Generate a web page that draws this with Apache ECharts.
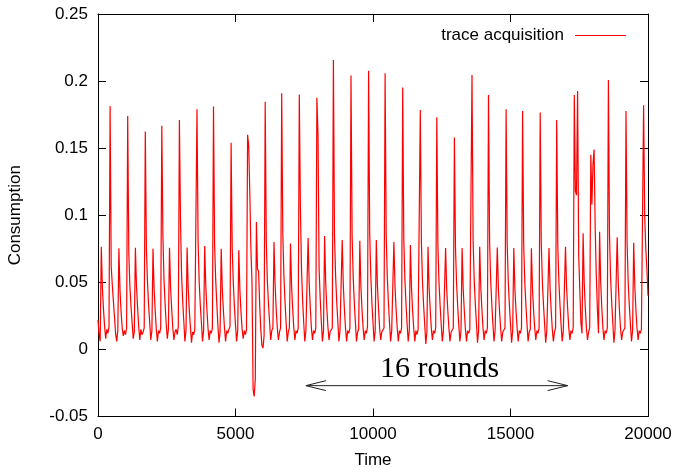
<!DOCTYPE html>
<html>
<head>
<meta charset="utf-8">
<script src="https://cdn.jsdelivr.net/npm/echarts@6/dist/echarts.min.js"></script>
<style>
html,body{margin:0;padding:0;background:#fff;}
#chart{width:677px;height:468px;}
</style>
</head>
<body>
<div id="chart"></div>
<script>
// ---- data ----
const seriesName = 'trace acquisition';
const timeStep = 40;            // time units between samples
const xTicks = [0, 5000, 10000, 15000, 20000];
const yTicks = [-0.05, 0, 0.05, 0.1, 0.15, 0.2, 0.25];
// sampled consumption, one value every timeStep, grouped per spike
const consumption = [].concat(
  [0.022, 0.011, 0.006],
  [0.0766, 0.046, 0.030, 0.017, 0.008, 0.015, 0.012, 0.017],
  [0.1814, 0.062, 0.048, 0.036, 0.024, 0.012, 0.006, 0.014],
  [0.0753, 0.044, 0.028, 0.016, 0.010, 0.014, 0.011, 0.016],
  [0.174, 0.072, 0.047, 0.032, 0.020, 0.008, 0.013],
  [0.0758, 0.047, 0.031, 0.017, 0.007, 0.015, 0.011, 0.013, 0.016],
  [0.1625, 0.075, 0.050, 0.033, 0.020, 0.007, 0.014],
  [0.075, 0.045, 0.029, 0.015, 0.006, 0.014, 0.012, 0.016],
  [0.1667, 0.085, 0.052, 0.034, 0.019, 0.008, 0.015],
  [0.0758, 0.046, 0.030, 0.016, 0.007, 0.013, 0.015, 0.011, 0.017],
  [0.171, 0.096, 0.055, 0.036, 0.021, 0.006, 0.014],
  [0.076, 0.046, 0.029, 0.017, 0.005, 0.013, 0.011, 0.015, 0.016],
  [0.179, 0.080, 0.050, 0.033, 0.020, 0.006, 0.014],
  [0.077, 0.047, 0.030, 0.016, 0.007, 0.014, 0.012, 0.016],
  [0.181, 0.078, 0.052, 0.034, 0.018, 0.005, 0.013],
  [0.075, 0.045, 0.029, 0.016, 0.006, 0.014, 0.012, 0.015, 0.017],
  [0.154, 0.075, 0.050, 0.032, 0.018, 0.006, 0.014],
  [0.074, 0.044, 0.028, 0.015, 0.008, 0.014, 0.011, 0.015],
  [0.160, 0.152, 0.117, 0.075, 0.050, -0.030, -0.035, -0.022],
  [0.095, 0.060, 0.058, 0.033, 0.015, 0.003, 0.001, 0.010],
  [0.1846, 0.080, 0.050, 0.034, 0.020, 0.007, 0.014, 0.016],
  [0.080, 0.048, 0.030, 0.016, 0.007, 0.013, 0.016],
  [0.191, 0.087, 0.055, 0.036, 0.020, 0.006, 0.013, 0.016],
  [0.079, 0.047, 0.030, 0.016, 0.007, 0.014, 0.012, 0.016],
  [0.190, 0.105, 0.060, 0.037, 0.020, 0.006, 0.014, 0.015],
  [0.083, 0.049, 0.031, 0.016, 0.007, 0.014, 0.012, 0.016],
  [0.1876, 0.160, 0.060, 0.038, 0.021, 0.006, 0.014],
  [0.0845, 0.050, 0.031, 0.017, 0.007, 0.013, 0.012, 0.016],
  [0.2157, 0.085, 0.055, 0.036, 0.021, 0.006, 0.014, 0.015],
  [0.0815, 0.048, 0.030, 0.016, 0.006, 0.014, 0.012, 0.016],
  [0.2042, 0.085, 0.054, 0.035, 0.020, 0.006, 0.013, 0.015],
  [0.081, 0.047, 0.030, 0.016, 0.007, 0.014, 0.012, 0.017],
  [0.2077, 0.086, 0.055, 0.035, 0.020, 0.006, 0.014],
  [0.0815, 0.048, 0.031, 0.016, 0.007, 0.013, 0.012, 0.016],
  [0.2058, 0.085, 0.054, 0.035, 0.020, 0.006, 0.014, 0.015],
  [0.080, 0.047, 0.030, 0.016, 0.006, 0.014, 0.012, 0.016],
  [0.1953, 0.082, 0.052, 0.034, 0.019, 0.006, 0.014],
  [0.0778, 0.046, 0.029, 0.016, 0.006, 0.014, 0.011, 0.015, 0.016],
  [0.1784, 0.080, 0.050, 0.033, 0.019, 0.004, 0.013],
  [0.0766, 0.046, 0.030, 0.016, 0.007, 0.014, 0.012, 0.016],
  [0.173, 0.078, 0.050, 0.033, 0.019, 0.006, 0.014, 0.015],
  [0.0755, 0.045, 0.029, 0.016, 0.006, 0.013, 0.012, 0.016],
  [0.158, 0.075, 0.049, 0.032, 0.018, 0.006, 0.014],
  [0.0755, 0.045, 0.029, 0.015, 0.006, 0.014, 0.012, 0.015, 0.016],
  [0.2045, 0.082, 0.052, 0.034, 0.020, 0.005, 0.014],
  [0.0766, 0.046, 0.030, 0.016, 0.007, 0.014, 0.012, 0.016],
  [0.1896, 0.080, 0.051, 0.034, 0.019, 0.006, 0.014, 0.015],
  [0.076, 0.045, 0.029, 0.016, 0.006, 0.013, 0.012, 0.016],
  [0.179, 0.078, 0.050, 0.033, 0.019, 0.005, 0.014],
  [0.0755, 0.045, 0.029, 0.016, 0.006, 0.014, 0.012, 0.016],
  [0.1777, 0.078, 0.050, 0.033, 0.019, 0.006, 0.013, 0.015],
  [0.0753, 0.045, 0.029, 0.016, 0.007, 0.014, 0.012, 0.016],
  [0.1765, 0.078, 0.050, 0.033, 0.019, 0.005, 0.014, 0.015],
  [0.0755, 0.045, 0.029, 0.015, 0.006, 0.013, 0.016],
  [0.171, 0.077, 0.050, 0.033, 0.018, 0.006, 0.014, 0.015],
  [0.0766, 0.046, 0.030, 0.016, 0.007, 0.014, 0.012, 0.016],
  [0.1896, 0.118, 0.115, 0.1926, 0.070, 0.045, 0.020, 0.012],
  [0.0865, 0.050, 0.031, 0.016, 0.007, 0.013, 0.016],
  [0.145, 0.108, 0.138, 0.149, 0.090, 0.055, 0.030, 0.012],
  [0.0877, 0.050, 0.031, 0.016, 0.007, 0.014, 0.012, 0.016],
  [0.2008, 0.085, 0.053, 0.035, 0.020, 0.005, 0.014, 0.015],
  [0.0835, 0.049, 0.030, 0.016, 0.007, 0.013, 0.012, 0.016],
  [0.1777, 0.079, 0.050, 0.033, 0.019, 0.006, 0.014],
  [0.0795, 0.047, 0.030, 0.016, 0.007, 0.014, 0.012, 0.015, 0.016],
  [0.182, 0.100, 0.075, 0.060, 0.040]
);
// annotation "16 rounds" double arrow (data coordinates)
const arrowStart = 7560, arrowEnd = 17080, arrowY = -0.027;
const arrowHeadLen = 730, arrowHeadHalf = 0.0037;
const roundsLabel = '16 rounds';
const roundsLabelX = 12420, roundsLabelY = -0.0146;

// ---- chart ----
const chart = echarts.init(document.getElementById('chart'), null, {renderer: 'canvas'});
const sans = '"Liberation Sans", Arial, Helvetica, sans-serif';
const axisCommon = {
  axisLine: {show: true, onZero: false, lineStyle: {color: '#000', width: 1}},
  axisTick: {show: true, inside: true, length: 8, lineStyle: {color: '#000', width: 1}},
  splitLine: {show: false}
};
const points = consumption.map((v, i) => [i * timeStep, v]);

chart.setOption({
  animation: false,
  backgroundColor: '#fff',
  grid: {left: 98, right: 29, top: 14, bottom: 51.5, show: false, containLabel: false, outerBoundsMode: 'none'},
  legend: {
    data: [seriesName],
    right: 46, top: 22,
    align: 'right',
    icon: 'rect', itemWidth: 51, itemHeight: 1.2,
    textStyle: {fontFamily: sans, fontSize: 17, color: '#000', padding: [0, 6, 0, 0]}
  },
  xAxis: [
    Object.assign({}, axisCommon, {
      type: 'value', position: 'bottom', min: xTicks[0], max: xTicks[xTicks.length - 1],
      interval: xTicks[1] - xTicks[0],
      name: 'Time', nameLocation: 'middle', nameGap: 35,
      nameTextStyle: {fontFamily: sans, fontSize: 17, color: '#000'},
      axisLabel: {fontFamily: sans, fontSize: 17, color: '#000', margin: 9,
        formatter: v => String(v)}
    }),
    Object.assign({}, axisCommon, {
      type: 'value', position: 'top', min: xTicks[0], max: xTicks[xTicks.length - 1],
      interval: xTicks[1] - xTicks[0], axisLabel: {show: false}
    })
  ],
  yAxis: [
    Object.assign({}, axisCommon, {
      type: 'value', position: 'left', min: yTicks[0], max: yTicks[yTicks.length - 1],
      interval: 0.05,
      name: 'Consumption', nameLocation: 'middle', nameGap: 74, nameRotate: 90,
      nameTextStyle: {fontFamily: sans, fontSize: 17, color: '#000'},
      axisLabel: {fontFamily: sans, fontSize: 17, color: '#000', margin: 10,
        formatter: v => String(Math.round(v * 100) / 100)}
    }),
    Object.assign({}, axisCommon, {
      type: 'value', position: 'right', min: yTicks[0], max: yTicks[yTicks.length - 1],
      interval: 0.05, axisLabel: {show: false}
    })
  ],
  series: [{
    name: seriesName,
    type: 'line',
    xAxisIndex: 0, yAxisIndex: 0,
    data: points,
    symbol: 'none',
    showSymbol: false,
    sampling: null,
    itemStyle: {color: '#ff0000'},
    lineStyle: {color: '#ff0000', width: 1.2},
    z: 3
  }]
});

function px(t, v) { return chart.convertToPixel({xAxisIndex: 0, yAxisIndex: 0}, [t, v]); }
const a0 = px(arrowStart, arrowY), a1 = px(arrowEnd, arrowY);
const l0 = px(arrowStart + arrowHeadLen, arrowY + arrowHeadHalf), l1 = px(arrowStart + arrowHeadLen, arrowY - arrowHeadHalf);
const r0 = px(arrowEnd - arrowHeadLen, arrowY + arrowHeadHalf), r1 = px(arrowEnd - arrowHeadLen, arrowY - arrowHeadHalf);
const lbl = px(roundsLabelX, roundsLabelY);
const arrowStyle = {stroke: '#222', lineWidth: 1, fill: null};
chart.setOption({
  graphic: [
    {type: 'polyline', shape: {points: [a0, a1]}, style: arrowStyle, z: 10},
    {type: 'polyline', shape: {points: [l0, a0, l1]}, style: arrowStyle, z: 10},
    {type: 'polyline', shape: {points: [r0, a1, r1]}, style: arrowStyle, z: 10},
    {type: 'text', x: lbl[0], y: lbl[1], z: 10,
     style: {text: roundsLabel, fill: '#000', font: '30px "Liberation Serif", "Times New Roman", serif',
             textAlign: 'center', textVerticalAlign: 'middle'}}
  ]
});
</script>
</body>
</html>
